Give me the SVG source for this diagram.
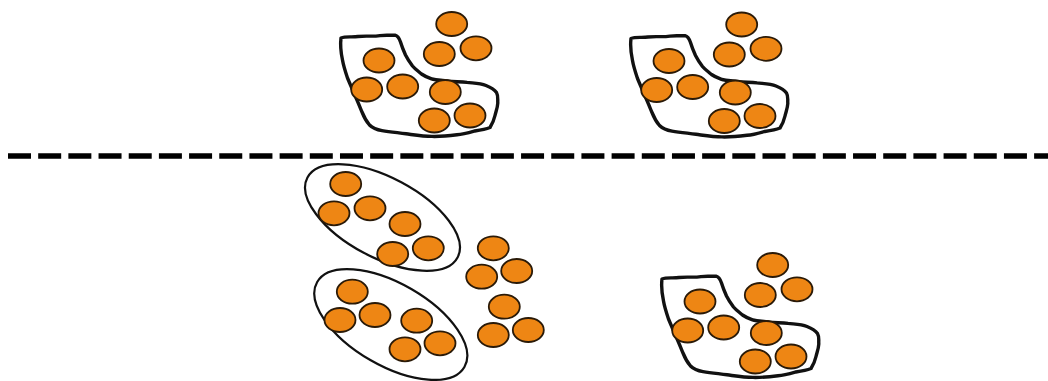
<svg xmlns="http://www.w3.org/2000/svg" xmlns:xlink="http://www.w3.org/1999/xlink" width="1048" height="381" viewBox="0 0 1048 381">
  <style>
    .dot { fill: #EE8614; stroke: #2a1a08; stroke-width: 1.8; }
    .blob { fill: none; stroke: #111; stroke-width: 3.4; stroke-linejoin: round; stroke-linecap: round; }
    .ring { fill: none; stroke: #111; stroke-width: 2.2; }
    .divider { stroke: #000; stroke-width: 5.5; stroke-dasharray: 23 7.18; fill: none; }
  </style>
  <defs>
    <!-- one hand-drawn cluster: wobbly outlined blob with six dots inside and three loose dots -->
    <g id="cluster">
      <path class="blob" d="M341,38 C346,36 352,37.5 358,36.5 C366,35.5 372,36.8 380,35.6 C386,34.8 391,35.6 395,35.2 C398,36 399.5,39 400.5,42 C402,47 403.5,50.5 405.5,55 C407.5,59 409.5,62 412.5,66 C415,69 418,71 421.5,74 C425,76.5 428,77.5 432,79 C438,80.5 442,80 448,81.2 C455,82 461,81.4 467,82.4 C474,83.2 480,83 486,85.5 C491,87.5 494,89 496.5,92.5 C498.5,96 497.5,99.5 497.8,103 C497.5,108 496,111 495,115.5 C494,120 492.5,123.5 490,127.5 C485,129.5 480,130.2 474.5,131 C468,132.8 463,134.2 457,134.8 C449,135.8 441,136.6 432,136.4 C423,136.4 415,135 406,133.8 C397,132.6 390,131.8 382,130.6 C377,129.8 373,128.5 369.5,125 C366,121 364,117 362,112 C359.5,106 357.5,101 355,95.5 C352.5,89.5 350,84 347.5,78 C345.5,72 343.5,66 342.5,60 C341,53 340,46 341,38 Z"/>
      <ellipse class="dot" cx="451.7" cy="24" rx="15.5" ry="12"/>
      <ellipse class="dot" cx="439.3" cy="54" rx="15.5" ry="12"/>
      <ellipse class="dot" cx="476" cy="48.3" rx="15.5" ry="12"/>
      <ellipse class="dot" cx="379" cy="60.5" rx="15.5" ry="12"/>
      <ellipse class="dot" cx="366.7" cy="89.5" rx="15.5" ry="12"/>
      <ellipse class="dot" cx="402.7" cy="86.5" rx="15.5" ry="12"/>
      <ellipse class="dot" cx="445.3" cy="92" rx="15.5" ry="12"/>
      <ellipse class="dot" cx="434.3" cy="120.5" rx="15.5" ry="12"/>
      <ellipse class="dot" cx="470" cy="115.5" rx="15.5" ry="12"/>
    </g>
  </defs>

  <rect width="1048" height="381" fill="#fff"/>

  <!-- dashed divider between the two rows -->
  <g id="connectors">
    <line class="divider" x1="8" y1="156" x2="1048" y2="156"/>
  </g>

  <g id="cluster-top-left">
    <use xlink:href="#cluster"/>
  </g>

  <g id="cluster-top-right">
    <use xlink:href="#cluster" transform="translate(290,0.5)"/>
  </g>

  <g id="cluster-split">
    <ellipse class="ring" cx="382.5" cy="217.5" rx="85" ry="40" transform="rotate(28 382.5 217.5)"/>
    <ellipse class="ring" cx="390.8" cy="324.5" rx="85" ry="41" transform="rotate(30 390.8 324.5)"/>
    <!-- upper ring -->
    <ellipse class="dot" cx="345.7" cy="184" rx="15.5" ry="12"/>
    <ellipse class="dot" cx="334" cy="213.3" rx="15.5" ry="12"/>
    <ellipse class="dot" cx="370" cy="208.3" rx="15.5" ry="12"/>
    <ellipse class="dot" cx="405" cy="224" rx="15.5" ry="12"/>
    <ellipse class="dot" cx="392.7" cy="254" rx="15.5" ry="12"/>
    <ellipse class="dot" cx="428.3" cy="248.3" rx="15.5" ry="12"/>
    <!-- lower ring -->
    <ellipse class="dot" cx="352.3" cy="291.7" rx="15.5" ry="12"/>
    <ellipse class="dot" cx="340" cy="320" rx="15.5" ry="12"/>
    <ellipse class="dot" cx="375" cy="315" rx="15.5" ry="12"/>
    <ellipse class="dot" cx="416.7" cy="320.7" rx="15.5" ry="12"/>
    <ellipse class="dot" cx="405" cy="349.3" rx="15.5" ry="12"/>
    <ellipse class="dot" cx="440" cy="343.3" rx="15.5" ry="12"/>
    <!-- loose dots -->
    <ellipse class="dot" cx="493.3" cy="248.3" rx="15.5" ry="12"/>
    <ellipse class="dot" cx="481.7" cy="276.7" rx="15.5" ry="12"/>
    <ellipse class="dot" cx="516.7" cy="271" rx="15.5" ry="12"/>
    <ellipse class="dot" cx="504.3" cy="306.7" rx="15.5" ry="12"/>
    <ellipse class="dot" cx="493.3" cy="335" rx="15.5" ry="12"/>
    <ellipse class="dot" cx="528.3" cy="330" rx="15.5" ry="12"/>
  </g>

  <g id="cluster-bottom-right">
    <use xlink:href="#cluster" transform="translate(321,241)"/>
  </g>
</svg>
